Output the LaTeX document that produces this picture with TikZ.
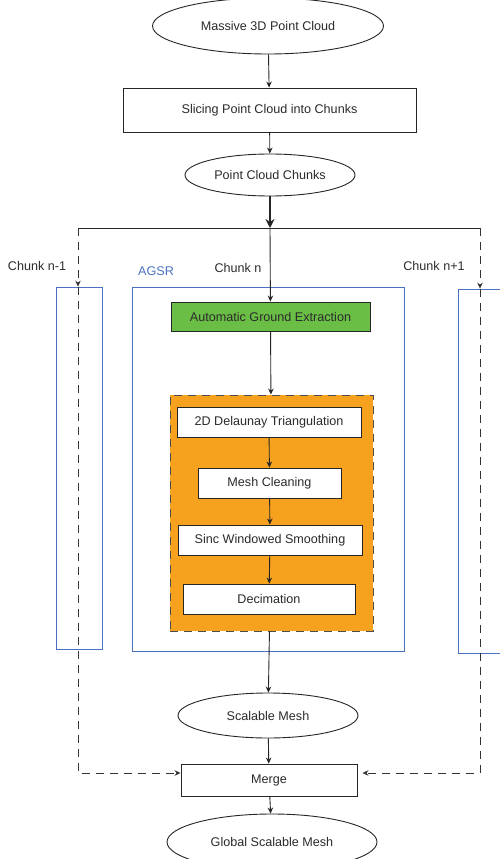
\documentclass[tikz,border=0pt]{standalone}
\usepackage{fontspec}
\setmainfont{Liberation Sans}
\usetikzlibrary{shapes}
\usetikzlibrary{arrows.meta}

\definecolor{txtgray}{HTML}{2B2B2B}
\definecolor{agsrblue}{HTML}{4A72C0}
\definecolor{groundgreen}{HTML}{6ABD45}
\definecolor{meshorange}{HTML}{F6A21E}

\tikzset{
  every node/.style={font=\fontsize{12.6}{14}\selectfont,text=txtgray},
  oval/.style={ellipse,draw=black!85,line width=0.9pt,fill=white,inner sep=0pt},
  block/.style={rectangle,draw=black!85,line width=0.9pt,fill=white,inner sep=0pt},
  flow/.style={draw=black!85,line width=0.9pt,-{Stealth[length=6pt,width=5.5pt]}},
  chunkline/.style={draw=black!80,line width=0.9pt,dash pattern=on 8pt off 6pt},
  frame/.style={draw=agsrblue,line width=0.8pt}
}

\begin{document}
\begin{tikzpicture}[x=1pt,y=-1pt]
  \useasboundingbox (0,0) rectangle (500,859);

  % Place nodes
  \node [oval,minimum width=231,minimum height=56] (cloud) at (268,26) {Massive 3D Point Cloud};
  \node [block,minimum width=293,minimum height=44] (slice) at (269.5,110) {Slicing Point Cloud into Chunks};
  \node [oval,minimum width=170,minimum height=42] (chunks) at (270,175) {Point Cloud Chunks};

  % chunk frames
  \node [frame,minimum width=46,minimum height=362,inner sep=0pt] (chunkl) at (79,468) {};
  \node [frame,minimum width=272,minimum height=364,inner sep=0pt] (agsr) at (268,469) {};
  \node [frame,minimum width=60,minimum height=364,inner sep=0pt] (chunkr) at (488,471) {};

  \node (lblprev) at (37,266) {Chunk n-1};
  \node [text=agsrblue] (lblagsr) at (156,271) {AGSR};
  \node (lblcur) at (238,268) {Chunk n};
  \node (lblnext) at (434,266) {Chunk n+1};

  \node [block,fill=groundgreen,minimum width=199,minimum height=29] (ground) at (270.5,316.5) {Automatic Ground Extraction};

  \node [rectangle,fill=meshorange,draw=black!70,line width=0.9pt,dash pattern=on 8pt off 6pt,minimum width=203,minimum height=236,inner sep=0pt] (meshbox) at (271.5,513) {};
  \node [block,minimum width=184,minimum height=30] (delaunay) at (269,422) {2D Delaunay Triangulation};
  \node [block,minimum width=143,minimum height=30] (clean) at (269.5,483) {Mesh Cleaning};
  \node [block,minimum width=184,minimum height=30] (sinc) at (270,540) {Sinc Windowed Smoothing};
  \node [block,minimum width=172,minimum height=30] (decim) at (269,599) {Decimation};

  \node [oval,minimum width=180,minimum height=45] (scal) at (268,715.5) {Scalable Mesh};
  \node [block,minimum width=176,minimum height=32] (merge) at (269,780) {Merge};
  \node [oval,minimum width=210,minimum height=56] (glob) at (272,842) {Global Scalable Mesh};

  \coordinate (split) at (270,228);
  \coordinate (lt) at (78,228);
  \coordinate (rt) at (480,228);
  \coordinate (lb) at (78,773);
  \coordinate (rb) at (480,773);

  % connectors
  \draw [flow] (cloud) -- (slice);
  \draw [flow] (slice) -- (chunks);
  \draw [draw=black!85,line width=2.2pt,-{Stealth[length=9pt,width=9pt]}] (chunks) -- (split);
  \draw [draw=black!85,line width=0.9pt] (lt) -- (rt);
  \draw [flow] (split) -- (ground);
  \draw [flow] (ground) -- (meshbox);
  \draw [flow] (delaunay) -- (clean);
  \draw [flow] (clean) -- (sinc);
  \draw [flow] (sinc) -- (decim);
  \draw [flow] (meshbox) -- (scal);
  \draw [flow] (scal) -- (merge);
  \draw [flow] (merge) -- (glob);

  \draw [chunkline,-{Stealth[length=6pt,width=5.5pt]}] (lt) -- (lt |- chunkl.north);
  \draw [chunkline,-{Stealth[length=6pt,width=5.5pt]}] (rt) -- (rt |- chunkr.north);
  \draw [chunkline,-{Stealth[length=6pt,width=5.5pt]}] (lt |- chunkl.north) -- (lb) -- (lb -| merge.west);
  \draw [chunkline,-{Stealth[length=6pt,width=5.5pt]},shorten >=5pt] (rt |- chunkr.north) -- (rb) -- (rb -| merge.east);
\end{tikzpicture}
\end{document}
